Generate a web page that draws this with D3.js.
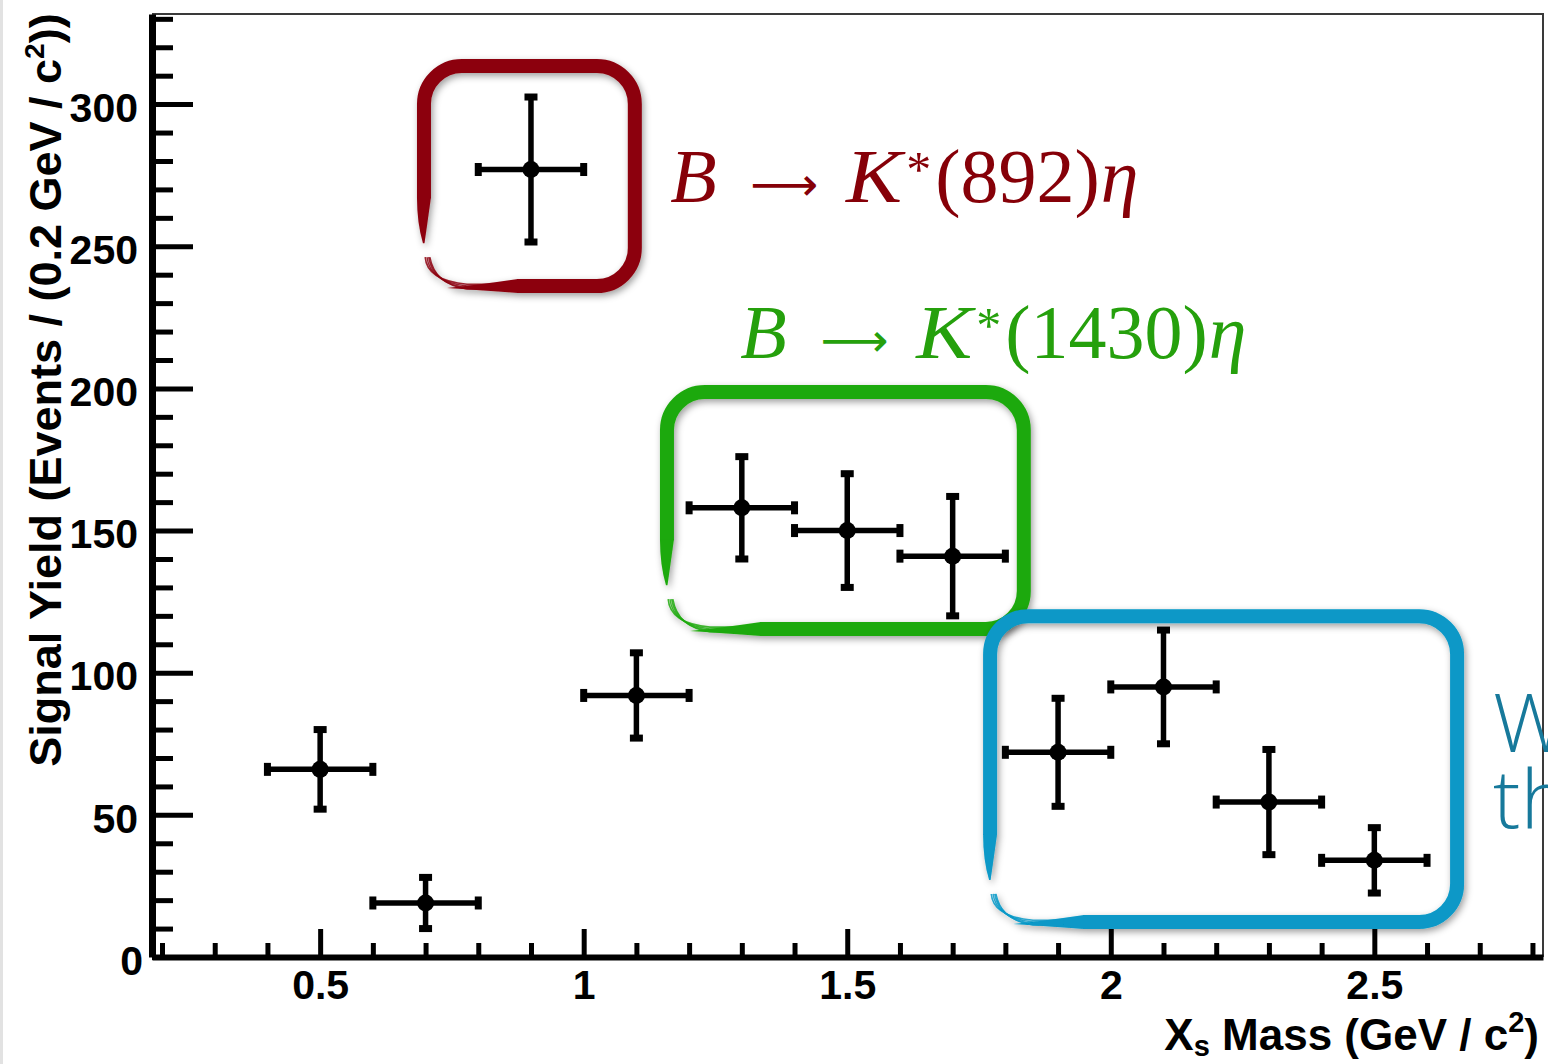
<!DOCTYPE html>
<html><head><meta charset="utf-8">
<script src="https://cdn.jsdelivr.net/npm/d3@7"></script>
<style>body{margin:0;background:#fff;} svg{display:block;}</style>
</head><body>
<script>
// ---- data ----
const massBins   = [0.5, 0.7, 0.9, 1.1, 1.3, 1.5, 1.7, 1.9, 2.1, 2.3, 2.5];
const yields     = [66, 19, 277, 92, 158, 150, 141, 72, 95, 54.5, 34];
const yieldErrs  = [14, 9, 25.5, 15, 18, 20, 21, 19, 20, 18.5, 11.5];
const binHalfWidths = [0.1, 0.1, 0.1, 0.1, 0.1, 0.1, 0.1, 0.1, 0.1, 0.1, 0.1];

const xMajorTicks = [0.5, 1, 1.5, 2, 2.5];
const xTickLabels = ["0.5", "1", "1.5", "2", "2.5"];
const yMajorTicks = [0, 50, 100, 150, 200, 250, 300];
const yTickLabels = ["0", "50", "100", "150", "200", "250", "300"];
const xDomain = [0.181, 2.82];
const yDomain = [0, 331.7];

// highlight boxes (data coordinates: x range, y range, where the left stroke stops)
const boxNames   = ["K892", "K1430", "wide"];
const boxXRanges = [[0.697, 1.097], [1.158, 1.835], [1.771, 2.657]];
const boxYRanges = [[313.4, 236.0], [198.7, 115.4], [119.9, 12.3]];
const boxLeftEnds = [251.1, 130.8, 27.1];
const boxColors  = ["#8c000e", "#1ea90c", "#0898c7"];

const annotNumbers = ["(892)", "(1430)"];
const annotColors  = ["#860008", "#25a00c"];

// ---- layout ----
const W = 1548, H = 1064;
const L = 152, R = 1543, T = 14, B = 957;
const x = d3.scaleLinear().domain(xDomain).range([L, R]);
const y = d3.scaleLinear().domain(yDomain).range([B, T]);

const svg = d3.select("body").append("svg").attr("width", W).attr("height", H);
const defs = svg.append("defs");
const f = defs.append("filter").attr("id", "shadow").attr("x", "-10%").attr("y", "-10%").attr("width", "125%").attr("height", "125%");
f.append("feDropShadow").attr("dx", 2).attr("dy", 3).attr("stdDeviation", 3.5)
  .attr("flood-color", "#000").attr("flood-opacity", 0.38);

svg.append("rect").attr("width", W).attr("height", H).attr("fill", "#fff");
svg.append("rect").attr("x", 0).attr("y", 0).attr("width", 3).attr("height", H).attr("fill", "#e2e2e2");

// frame top / right
svg.append("path").attr("d", `M${L},${T}H${R}V${B}`).attr("fill", "none")
  .attr("stroke", "#3a3a3a").attr("stroke-width", 2);

const sans = "'Liberation Sans', Arial, Helvetica, sans-serif";

// minor ticks
const xMinor = d3.range(2, 29).map(i => i / 10).filter(v => Math.abs(v * 2 - Math.round(v * 2)) > 1e-6);
const yMinor = d3.range(0, 34).map(i => i * 10).filter(v => v % 50 !== 0);

const gxm = svg.append("g").attr("transform", `translate(0,${B})`)
  .call(d3.axisBottom(x).tickValues(xMinor).tickSizeInner(-14).tickSizeOuter(0).tickFormat(""));
gxm.select(".domain").remove();
gxm.selectAll(".tick line").attr("stroke", "#000").attr("stroke-width", 5);

const gym = svg.append("g").attr("transform", `translate(${L},0)`)
  .call(d3.axisLeft(y).tickValues(yMinor).tickSizeInner(-21).tickSizeOuter(0).tickFormat(""));
gym.select(".domain").remove();
gym.selectAll(".tick line").attr("stroke", "#000").attr("stroke-width", 5);

// major axes
const gx = svg.append("g").attr("transform", `translate(0,${B})`)
  .call(d3.axisBottom(x).tickValues(xMajorTicks).tickFormat((d, i) => xTickLabels[i])
    .tickSizeInner(-28).tickSizeOuter(0).tickPadding(13));
gx.select(".domain").attr("stroke", "#000").attr("stroke-width", 6);
gx.selectAll(".tick line").attr("stroke", "#000").attr("stroke-width", 5);
gx.selectAll(".tick text").attr("fill", "#000").style("font", `bold 41px ${sans}`);

const gy = svg.append("g").attr("transform", `translate(${L},0)`)
  .call(d3.axisLeft(y).tickValues(yMajorTicks).tickFormat((d, i) => yTickLabels[i])
    .tickSizeInner(-41).tickSizeOuter(0).tickPadding(14));
gy.select(".domain").attr("stroke", "#000").attr("stroke-width", 7);
gy.selectAll(".tick line").attr("stroke", "#000").attr("stroke-width", 5);
gy.selectAll(".tick text").attr("fill", "#000").attr("dy", "0.42em").style("font", `bold 41px ${sans}`)
  .attr("dx", d => d === 0 ? 5 : 0);

// axis titles
const yt = svg.append("text").attr("transform", `translate(61,${(765 + 15) / 2}) rotate(-90)`)
  .attr("text-anchor", "middle").style("font", `bold 45px ${sans}`).attr("fill", "#000");
yt.append("tspan").text("Signal Yield (Events / (0.2 GeV / c");
yt.append("tspan").attr("dy", -17).style("font-size", "28px").text("2");
yt.append("tspan").attr("dy", 17).text("))");

const xt = svg.append("text").attr("x", 1539).attr("y", 1050).attr("text-anchor", "end")
  .style("font", `bold 44px ${sans}`).attr("fill", "#000");
xt.append("tspan").text("X");
xt.append("tspan").attr("dy", 6).style("font-size", "29px").text("s");
xt.append("tspan").attr("dy", -6).text(" Mass (GeV / c");
xt.append("tspan").attr("dy", -18).style("font-size", "29px").text("2");
xt.append("tspan").attr("dy", 18).text(")");

// ---- data points with error bars ----
const pts = massBins.map((m, i) => ({m, v: yields[i], e: yieldErrs[i], h: binHalfWidths[i]}));
const gp = svg.append("g");
const pg = gp.selectAll("g.pt").data(pts).join("g").attr("class", "pt");
pg.append("line").attr("x1", d => x(d.m)).attr("x2", d => x(d.m))
  .attr("y1", d => y(d.v - d.e)).attr("y2", d => y(d.v + d.e)).attr("stroke", "#000").attr("stroke-width", 5.5);
pg.append("line").attr("x1", d => x(d.m - d.h)).attr("x2", d => x(d.m + d.h))
  .attr("y1", d => y(d.v)).attr("y2", d => y(d.v)).attr("stroke", "#000").attr("stroke-width", 5.5);
[-1, 1].forEach(s => {
  pg.append("rect").attr("x", d => x(d.m) - 6.5).attr("y", d => y(d.v + s * d.e) - 3.5)
    .attr("width", 13).attr("height", 7).attr("fill", "#000");
  pg.append("rect").attr("x", d => x(d.m + s * d.h) - 3.5).attr("y", d => y(d.v) - 6.5)
    .attr("width", 7).attr("height", 13).attr("fill", "#000");
});
pg.append("circle").attr("cx", d => x(d.m)).attr("cy", d => y(d.v)).attr("r", 8.5).attr("fill", "#000");

// ---- hand-drawn highlight boxes ----
function drawBox(i) {
  const x0 = x(boxXRanges[i][0]), x1 = x(boxXRanges[i][1]);
  const y0 = y(boxYRanges[i][0]), y1 = y(boxYRanges[i][1]);
  const yEnd = y(boxLeftEnds[i]);
  const c = boxColors[i], w = 14, r = 38;
  const g = svg.append("g").attr("filter", "url(#shadow)");
  const bx = x0 + r + 55; // where the thick bottom stroke starts
  g.append("path").attr("fill", "none").attr("stroke", c).attr("stroke-width", w)
    .attr("d", `M${x0},${yEnd - 45}V${y0 + r}A${r},${r} 0 0 1 ${x0 + r},${y0}H${x1 - r}` +
      `A${r},${r} 0 0 1 ${x1},${y0 + r}V${y1 - r}A${r},${r} 0 0 1 ${x1 - r},${y1}H${bx}`);
  // taper of left stroke
  g.append("path").attr("fill", c)
    .attr("d", `M${x0 - w / 2},${yEnd - 46}L${x0 + w / 2},${yEnd - 46}Q${x0 + 2},${yEnd - 10} ${x0 + 0.5},${yEnd}` +
      `L${x0 - 1},${yEnd}Q${x0 - w / 2},${yEnd - 20} ${x0 - w / 2},${yEnd - 46}Z`);
  // taper of bottom stroke
  g.append("path").attr("fill", c)
    .attr("d", `M${bx + 1},${y1 - w / 2}L${bx + 1},${y1 + w / 2}Q${bx - 40},${y1 + 4} ${bx - 70},${y1 + 2}` +
      `Q${bx - 40},${y1 - 1} ${bx + 1},${y1 - w / 2}Z`);
  // thin brush strokes round the lower-left corner
  [[-3, 1.6], [0, 1.4], [3, 1.8], [5, 1.2]].forEach(([o, sw]) => {
    g.append("path").attr("fill", "none").attr("stroke", c).attr("stroke-width", sw).attr("stroke-opacity", 0.85)
      .attr("d", `M${bx - 20},${y1 + o * 0.6}H${x0 + r + 5}Q${x0 + 6 + o},${y1 + o * 0.5 - 4} ${x0 + 3 + o * 0.6},${yEnd + 14}`);
  });
}
boxNames.forEach((n, i) => drawBox(i));

// ---- decay annotations: B -> K*(...) eta, laid out piece by piece ----
const serif = "'Liberation Serif', 'Times New Roman', serif";
const annotX = [1.164, 1.297], annotY = [265.5, 210.7];
// offsets of the pieces relative to the start of each formula (px)
const pieceOffsets = {B: 0, arrow: 80, K: 176, star: 236, num: 265};
annotNumbers.forEach((num, i) => {
  const x0 = x(annotX[i]), b = y(annotY[i]);
  const g = svg.append("g").attr("fill", annotColors[i]).style("font-family", serif).style("font-size", "76px");
  g.append("text").attr("x", x0 + pieceOffsets.B).attr("y", b).style("font-style", "italic").text("B");
  g.append("text").attr("x", x0 + pieceOffsets.arrow).attr("y", b - 2)
    .style("font-family", "'DejaVu Sans', sans-serif").style("font-size", "46px")
    .attr("textLength", 68).attr("lengthAdjust", "spacingAndGlyphs").text("\u27f6");
  g.append("text").attr("x", x0 + pieceOffsets.K).attr("y", b).style("font-style", "italic")
    .attr("textLength", 56).attr("lengthAdjust", "spacingAndGlyphs").text("K");
  g.append("text").attr("x", x0 + pieceOffsets.star).attr("y", b - 16).style("font-size", "50px").text("*");
  const nt = g.append("text").attr("x", x0 + pieceOffsets.num).attr("y", b).text(num);
  const nw = nt.node().getComputedTextLength();
  g.append("text").attr("x", x0 + pieceOffsets.num + nw + 1).attr("y", b).style("font-style", "italic").text("\u03b7");
});

// cut-off slide text on the right edge (as in the reference, it runs off the picture)
const sideText = svg.append("text").style("font-family", "'Open Sans', Lato, sans-serif")
  .style("font-weight", 300).style("font-size", "82px").attr("fill", "#17799b");
sideText.append("tspan").attr("x", 1493).attr("y", 752).text("W");
sideText.append("tspan").attr("x", 1493).attr("y", 828).text("th");
</script>
</body></html>
